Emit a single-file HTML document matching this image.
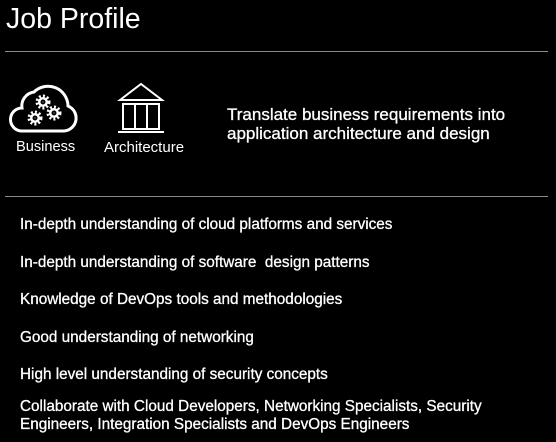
<!DOCTYPE html>
<html><head><style>
body{margin:0;width:556px;height:442px;background:#000;color:#fff;font-family:"Liberation Sans",sans-serif;position:relative;overflow:hidden}
.t{position:absolute;white-space:nowrap}
.hr{position:absolute;left:5px;width:543px;height:1px;background:#8a8a8a}
.li{position:absolute;left:20px;font-size:15.3px;white-space:nowrap;-webkit-text-stroke:0.3px #fff}
</style></head><body>
<div class="t" style="left:6px;top:3px;font-size:28.5px">Job Profile</div>
<div class="hr" style="top:51px"></div>
<div class="hr" style="top:196px"></div>
<svg width="556" height="442" style="position:absolute;left:0;top:0" fill="none" stroke="#fff" stroke-width="3">
<path d="M22,131 H64 A13,13 0 0 0 68,106 A20,20 0 0 0 34,92 A14,14 0 0 0 22,108 A11.5,11.5 0 0 0 22,131 Z"/>
<g fill="#fff" stroke="none">
<circle cx="43" cy="102" r="5"/><circle cx="35" cy="118" r="5"/><circle cx="54" cy="113" r="5"/>
</g>
<g stroke="#000" stroke-width="2" fill="none"><circle cx="43" cy="102" r="1.5"/><circle cx="35" cy="118" r="1.5"/><circle cx="54" cy="113" r="1.5"/></g>
<g stroke-dasharray="2 2" stroke-width="3"><circle cx="43" cy="102" r="6"/><circle cx="35" cy="118" r="6"/><circle cx="54" cy="113" r="6"/></g>
<g stroke-width="2">
<path d="M120,100 L141,84 L162,100 Z"/>
<rect x="123" y="104" width="36" height="25"/>
<line x1="135" y1="104" x2="135" y2="129"/><line x1="147" y1="104" x2="147" y2="129"/>
<line x1="118" y1="132" x2="164" y2="132"/>
</g>
</svg>
<div class="t" style="left:16px;top:139px;font-size:14.6px">Business</div>
<div class="t" style="left:104px;top:139px;font-size:15px">Architecture</div>
<div class="t" style="left:227px;top:105px;font-size:17px;line-height:19px;-webkit-text-stroke:0.3px #fff">Translate business requirements into<br>application architecture and design</div>
<div class="li" style="top:216px">In-depth understanding of cloud platforms and services</div>
<div class="li" style="top:254px">In-depth understanding of software&nbsp; design patterns</div>
<div class="li" style="top:291px">Knowledge of DevOps tools and methodologies</div>
<div class="li" style="top:329px">Good understanding of networking</div>
<div class="li" style="top:366px">High level understanding of security concepts</div>
<div class="li" style="top:398px;line-height:18px">Collaborate with Cloud Developers, Networking Specialists, Security<br>Engineers, Integration Specialists and DevOps Engineers</div>
</body></html>
